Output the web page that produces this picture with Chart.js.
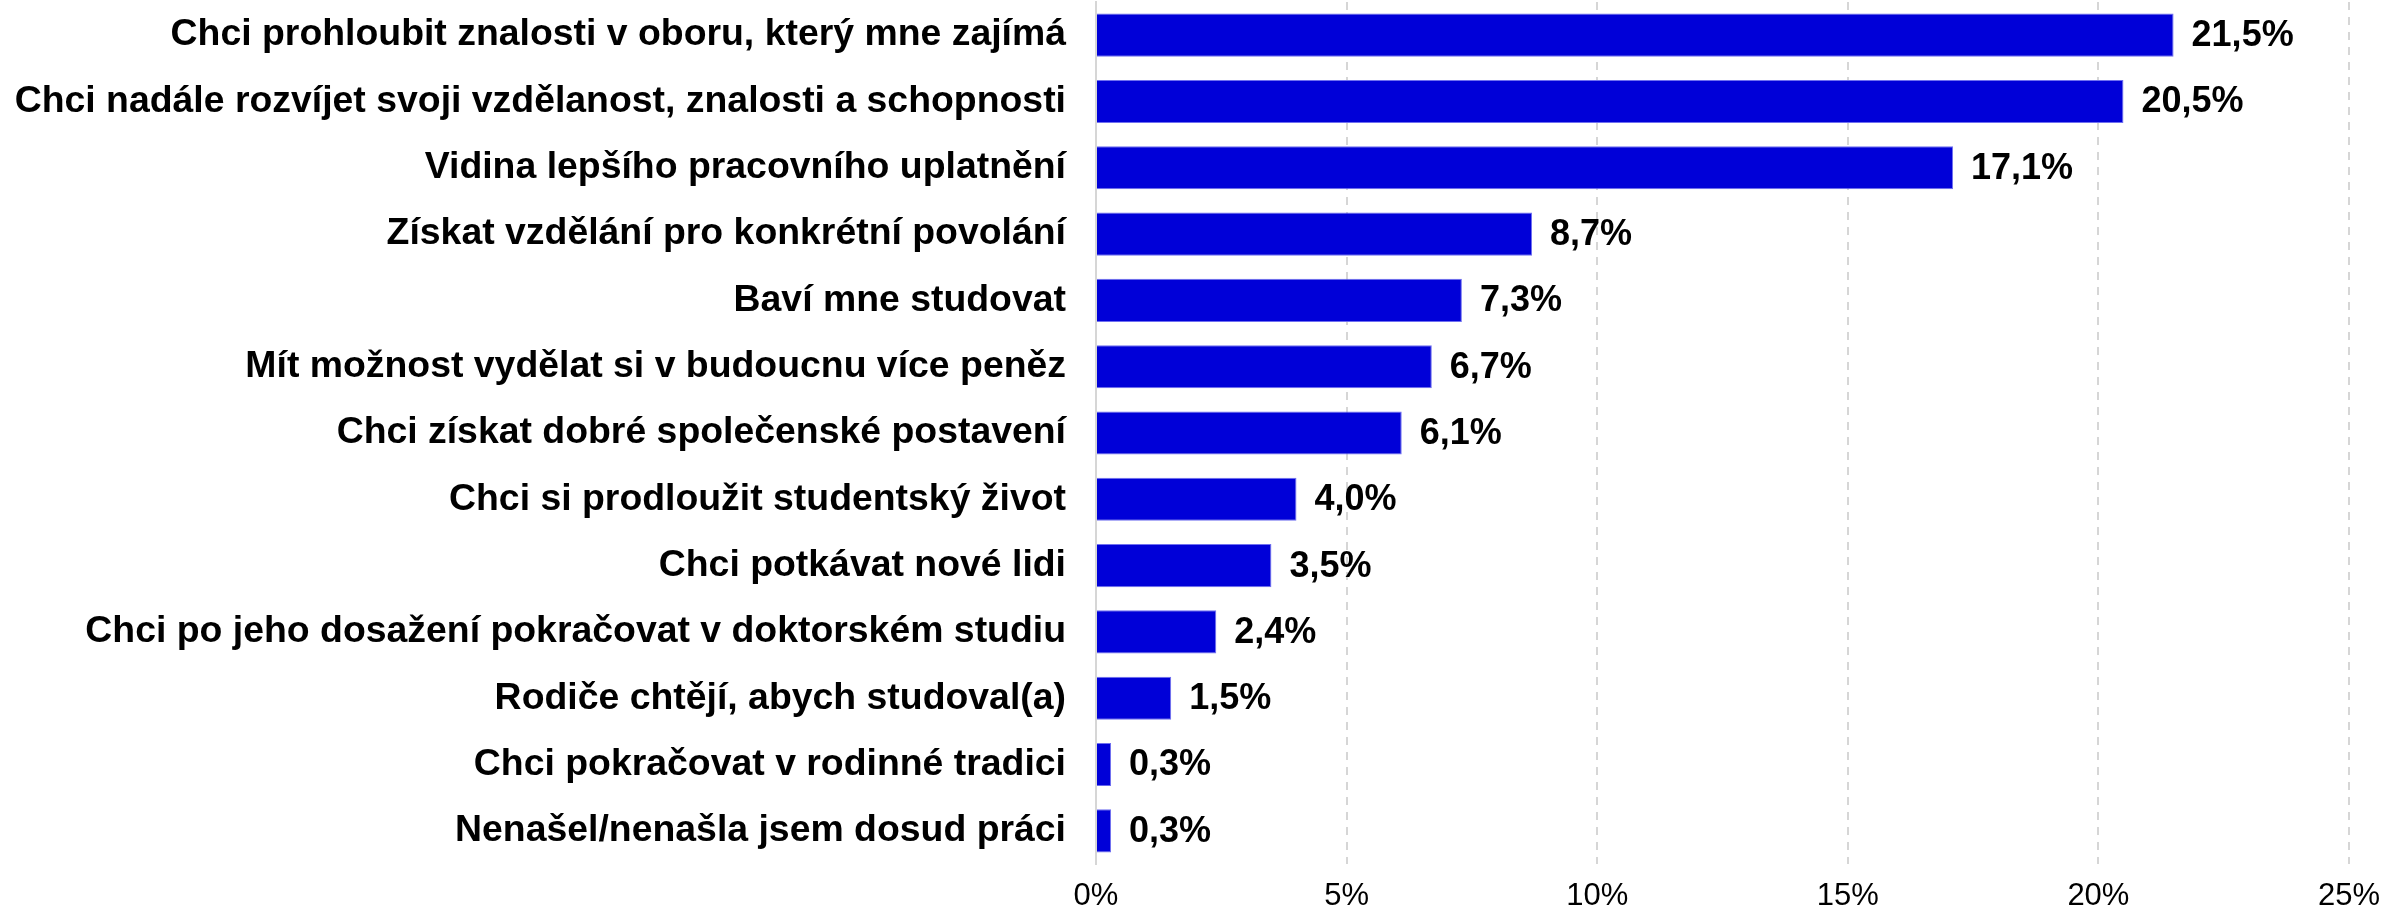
<!DOCTYPE html>
<html>
<head>
<meta charset="utf-8">
<script src="https://cdn.jsdelivr.net/npm/chart.js@4/dist/chart.umd.min.js"></script>
<style>
html,body{margin:0;padding:0;background:#fff;}
#wrap{width:2399px;height:913px;position:relative;}
</style>
</head>
<body>
<div id="wrap"><canvas id="c" width="2399" height="913"></canvas></div>
<script>
const categories = [
  "Chci prohloubit znalosti v oboru, který mne zajímá",
  "Chci nadále rozvíjet svoji vzdělanost, znalosti a schopnosti",
  "Vidina lepšího pracovního uplatnění",
  "Získat vzdělání pro konkrétní povolání",
  "Baví mne studovat",
  "Mít možnost vydělat si v budoucnu více peněz",
  "Chci získat dobré společenské postavení",
  "Chci si prodloužit studentský život",
  "Chci potkávat nové lidi",
  "Chci po jeho dosažení pokračovat v doktorském studiu",
  "Rodiče chtějí, abych studoval(a)",
  "Chci pokračovat v rodinné tradici",
  "Nenašel/nenašla jsem dosud práci"
];
const values = [21.5, 20.5, 17.1, 8.7, 7.3, 6.7, 6.1, 4.0, 3.5, 2.4, 1.5, 0.3, 0.3];
const xTicks = [0, 5, 10, 15, 20, 25];

const FONT = "'Liberation Sans', Arial, sans-serif";
const fmt = v => v.toFixed(1).replace('.', ',') + '%';

const valueLabels = {
  id: 'valueLabels',
  afterDatasetsDraw(chart) {
    const ctx = chart.ctx;
    const meta = chart.getDatasetMeta(0);
    ctx.save();
    ctx.font = "bold 36px " + FONT;
    ctx.fillStyle = '#000';
    ctx.textAlign = 'left';
    ctx.textBaseline = 'middle';
    meta.data.forEach((bar, i) => {
      ctx.fillText(fmt(values[i]), bar.x + 18, bar.y + 1);
    });
    ctx.restore();
  }
};

new Chart(document.getElementById('c'), {
  type: 'bar',
  data: {
    labels: categories,
    datasets: [{
      data: values,
      backgroundColor: '#0000d8',
      borderColor: '#7070f0',
      borderWidth: 1,
      barPercentage: 0.65,
      categoryPercentage: 1.0
    }]
  },
  options: {
    indexAxis: 'y',
    responsive: false,
    animation: false,
    layout: { padding: { left: 10, right: 50, top: 2, bottom: 0 } },
    plugins: { legend: { display: false }, tooltip: { enabled: false } },
    scales: {
      x: {
        min: 0, max: 25,
        afterBuildTicks(scale) { scale.ticks = xTicks.map(v => ({ value: v })); },
        afterFit(scale) { scale.height = 49; scale.paddingLeft = 0; scale.paddingRight = 0; },
        grid: { color: '#d6d6d6', lineWidth: 2, drawTicks: false },
        border: { display: false, dash: [8, 7] },
        ticks: {
          padding: 14,
          color: '#000',
          font: { family: FONT, size: 31 },
          callback: v => v + '%'
        }
      },
      y: {
        afterFit(scale) { scale.width = 1096 - 10; scale.paddingTop = 0; scale.paddingBottom = 0; },
        grid: { display: false, drawTicks: false },
        border: { display: true, color: '#d6d6d6', width: 2, dash: [] },
        ticks: {
          padding: 30,
          color: '#000',
          font: { family: FONT, size: 37.4, weight: 'bold' }
        }
      }
    }
  },
  plugins: [valueLabels]
});
</script>
</body>
</html>
